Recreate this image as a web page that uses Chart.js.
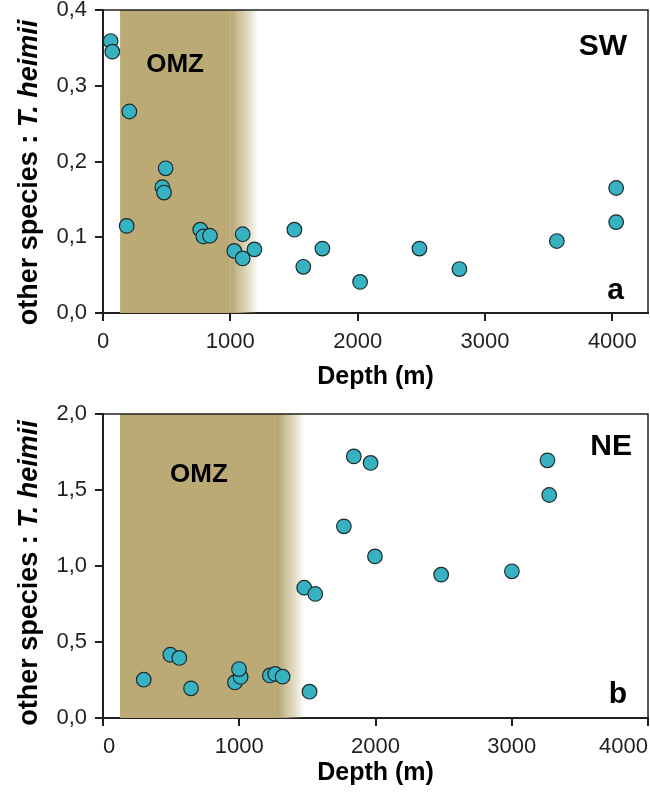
<!DOCTYPE html>
<html>
<head>
<meta charset="utf-8">
<script src="https://cdn.jsdelivr.net/npm/chart.js@4/dist/chart.umd.min.js"></script>
<style>
  body { margin: 0; background: #fff; overflow: hidden; }
  .panel { width: 650px; height: 398px; }
  canvas { display: block; }
</style>
</head>
<body>
<div class="panel"><canvas id="chartSW" width="650" height="398"></canvas></div>
<div class="panel"><canvas id="chartNE" width="650" height="398"></canvas></div>
<script>
// panel a (SW) - depth (m) vs ratio
const depthSW = [60, 73, 207, 186, 492, 466, 479, 764, 788, 840, 1031, 1097, 1097, 1189,
  1503, 1573, 1723, 2019, 2485, 2799, 3564, 4030, 4030];
const ratioSW = [0.359, 0.345, 0.266, 0.115, 0.191, 0.166, 0.159, 0.110, 0.101, 0.102, 0.082, 0.104, 0.072, 0.084,
  0.110, 0.061, 0.085, 0.041, 0.085, 0.058, 0.095, 0.165, 0.120];

// panel b (NE)
const depthNE = [299, 494, 560, 646, 968, 1010, 998, 1225, 1264, 1318, 1477, 1558, 1516,
  1768, 1841, 1964, 1996, 2482, 3001, 3262, 3275];
const ratioNE = [0.252, 0.416, 0.395, 0.195, 0.234, 0.270, 0.322, 0.280, 0.290, 0.272, 0.857, 0.816, 0.173,
  1.261, 1.721, 1.678, 1.063, 0.943, 0.965, 1.695, 1.467];

// OMZ band: start, end of solid part, end of fade (depth m)
const omzSW = [134, 1000, 1220];
const omzNE = [125, 1277, 1475];

const xTicks = [0, 1000, 2000, 3000, 4000];
const xLabels = ['0', '1000', '2000', '3000', '4000'];
const yTicksSW = [0, 0.1, 0.2, 0.3, 0.4];
const yLabelsSW = ['0,0', '0,1', '0,2', '0,3', '0,4'];
const yTicksNE = [0, 0.5, 1.0, 1.5, 2.0];
const yLabelsNE = ['0,0', '0,5', '1,0', '1,5', '2,0'];

const FONT = "'Liberation Sans', Arial, Helvetica, sans-serif";
const INK = '#231f20';
const KHAKI = 'rgba(187, 170, 117, 1)';
const TEAL = '#37b2c3';

// draws OMZ shading, frame, panel labels and the two-font y title
const panelPlugin = {
  id: 'panelDeco',
  beforeDatasetsDraw(chart, args, opts) {
    const { ctx, chartArea: ca, scales: { x } } = chart;
    const x0 = x.getPixelForValue(opts.omz[0]);
    const x1 = x.getPixelForValue(opts.omz[1]);
    const x2 = x.getPixelForValue(opts.omz[2]);
    ctx.save();
    ctx.fillStyle = KHAKI;
    ctx.fillRect(x0, ca.top, x1 - x0, ca.bottom - ca.top);
    const grad = ctx.createLinearGradient(x1, 0, x2, 0);
    grad.addColorStop(0, 'rgba(180, 163, 108, 1)');
    grad.addColorStop(0.35, 'rgba(200, 186, 145, 0.85)');
    grad.addColorStop(1, 'rgba(187, 170, 117, 0)');
    ctx.fillStyle = grad;
    ctx.fillRect(x1, ca.top, x2 - x1, ca.bottom - ca.top);

    ctx.fillStyle = '#000';
    ctx.textBaseline = 'alphabetic';
    ctx.font = 'bold 26px ' + FONT;
    ctx.textAlign = 'center';
    ctx.fillText('OMZ', x.getPixelForValue(opts.omzLabelX), ca.top + opts.omzLabelDy);
    ctx.restore();
  },
  afterDraw(chart, args, opts) {
    const { ctx, chartArea: ca } = chart;
    ctx.save();
    ctx.strokeStyle = INK;
    ctx.lineWidth = 1.5;
    ctx.beginPath();
    ctx.moveTo(ca.left, ca.top);
    ctx.lineTo(ca.right, ca.top);
    ctx.lineTo(ca.right, ca.bottom);
    ctx.stroke();

    ctx.fillStyle = '#000';
    ctx.textAlign = 'right';
    ctx.textBaseline = 'alphabetic';
    ctx.font = 'bold 30px ' + FONT;
    ctx.fillText(opts.region, ca.right - opts.regionDx, ca.top + opts.regionDy);
    ctx.fillText(opts.letter, ca.right - opts.letterDx, ca.bottom - opts.letterDy);

    // y axis title, bold + bold italic
    const part1 = 'other species : ';
    const part2 = 'T. heimii';
    const f1 = 'bold 27px ' + FONT;
    const f2 = 'italic bold 27px ' + FONT;
    ctx.font = f1;
    const w1 = ctx.measureText(part1).width;
    ctx.font = f2;
    const w2 = ctx.measureText(part2).width;
    const cy = (ca.top + ca.bottom) / 2 + opts.titleDy;
    ctx.translate(30, cy);
    ctx.rotate(-Math.PI / 2);
    ctx.textAlign = 'left';
    ctx.textBaseline = 'middle';
    const start = -(w1 + w2) / 2;
    ctx.font = f1;
    ctx.fillText(part1, start, 0);
    ctx.font = f2;
    ctx.fillText(part2, start + w1, 0);
    ctx.restore();
  }
};

function noPad(s) {
  s.paddingLeft = 0;
  s.paddingRight = 0;
  s.paddingTop = 0;
  s.paddingBottom = 0;
}

function makeChart(id, xs, ys, cfg) {
  const points = xs.map((d, i) => ({ x: d, y: ys[i] }));
  return new Chart(document.getElementById(id), {
    type: 'scatter',
    data: {
      datasets: [{
        data: points,
        backgroundColor: TEAL,
        borderColor: '#1d2b2c',
        borderWidth: 1.2,
        pointRadius: 7.3,
        pointHoverRadius: 7.3
      }]
    },
    plugins: [panelPlugin],
    options: {
      responsive: false,
      animation: false,
      devicePixelRatio: 1,
      layout: { autoPadding: false, padding: { top: cfg.padTop, right: 2, left: 0, bottom: 0 } },
      plugins: {
        legend: { display: false },
        tooltip: { enabled: false },
        panelDeco: cfg.deco
      },
      scales: {
        x: {
          type: 'linear',
          min: 0,
          max: cfg.xMax,
          afterBuildTicks: s => { s.ticks = xTicks.map(v => ({ value: v })); },
          afterFit: s => { s.height = cfg.xHeight; noPad(s); },
          grid: { drawOnChartArea: false, drawTicks: true, tickLength: 8, tickColor: INK, lineWidth: 2 },
          border: { color: INK, width: 2 },
          ticks: {
            font: { family: FONT, size: 22 },
            color: INK,
            padding: 8,
            maxRotation: 0,
            autoSkip: false,
            align: cfg.xAlign,
            callback: v => xLabels[xTicks.indexOf(v)]
          },
          title: {
            display: true,
            text: 'Depth (m)',
            color: '#000',
            font: { family: FONT, size: 25, weight: 'bold' },
            padding: { top: 0, bottom: cfg.titlePad }
          }
        },
        y: {
          min: 0,
          max: cfg.yMax,
          afterBuildTicks: s => { s.ticks = cfg.yTicks.map(v => ({ value: v })); },
          afterFit: s => { s.width = 103; noPad(s); },
          grid: { drawOnChartArea: false, drawTicks: true, tickLength: 8, tickColor: INK, lineWidth: 2 },
          border: { color: INK, width: 2 },
          ticks: {
            font: { family: FONT, size: 22 },
            color: INK,
            padding: 8,
            callback: v => cfg.yLabels[cfg.yTicks.indexOf(v)]
          }
        }
      }
    }
  });
}

makeChart('chartSW', depthSW, ratioSW, {
  padTop: 10, xMax: 4280, xHeight: 85, titlePad: 6, xAlign: 'center',
  yMax: 0.4, yTicks: yTicksSW, yLabels: yLabelsSW,
  deco: { omz: omzSW, omzLabelX: 566, omzLabelDy: 62, region: 'SW', regionDx: 21, regionDy: 45,
          letter: 'a', letterDx: 24, letterDy: 14, titleDy: 11 }
});

makeChart('chartNE', depthNE, ratioNE, {
  padTop: 16, xMax: 4000, xHeight: 78, titlePad: 8, xAlign: 'inner',
  yMax: 2.0, yTicks: yTicksNE, yLabels: yLabelsNE,
  deco: { omz: omzNE, omzLabelX: 704, omzLabelDy: 68, region: 'NE', regionDx: 16, regionDy: 41,
          letter: 'b', letterDx: 21, letterDy: 15, titleDy: 7 }
});
</script>
</body>
</html>
